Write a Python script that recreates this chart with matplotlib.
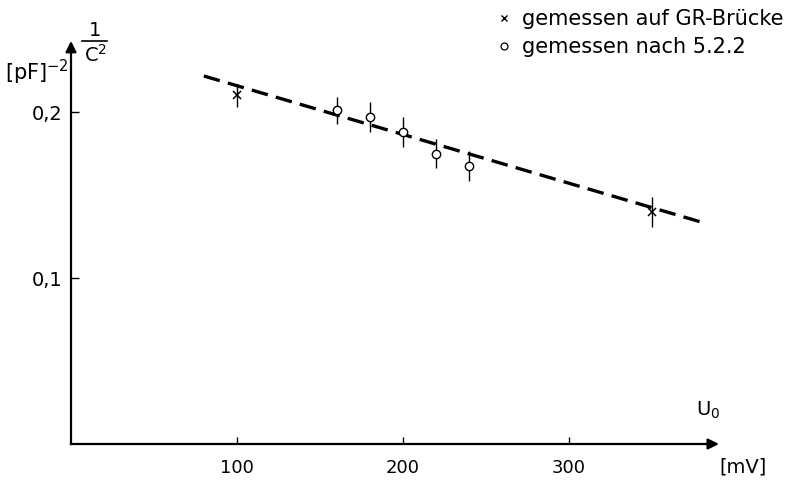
import matplotlib
matplotlib.use("Agg")
import matplotlib.pyplot as plt
from matplotlib.lines import Line2D

# --- data ---
gr_u = [100, 350]                 # mV, measured on GR bridge (x markers)
gr_v = [0.210, 0.140]             # 1/C^2 [pF^-2]
gr_err = [0.007, 0.009]

m_u = [160, 180, 200, 220, 240]   # mV, measured after 5.2.2 (circles)
m_v = [0.201, 0.197, 0.188, 0.175, 0.1675]
m_err = [0.008, 0.009, 0.009, 0.0087, 0.0093]

fit_u = [80, 382]                 # dashed regression line end points
fit_v = [0.2217, 0.133]

xticks = [100, 200, 300]
xtick_labels = ["100", "200", "300"]
yticks = [0.1, 0.2]
ytick_labels = ["0,1", "0,2"]

plt.rcParams["font.family"] = ["DejaVu Sans"]
plt.rcParams["mathtext.fontset"] = "dejavusans"

W, H = 796, 486
fig = plt.figure(figsize=(W / 100, H / 100), dpi=100)
ox, oy = 71, 444  # pixel position of origin
ax = fig.add_axes([ox / W, (H - oy) / H, 1 - ox / W, oy / H])
ax.set_xlim(0, (W - ox) / 1.66)
ax.set_ylim(0, oy / 1660)

for s in ["top", "right"]:
    ax.spines[s].set_visible(False)
ax.spines["bottom"].set_bounds(0, 385)
ax.spines["left"].set_bounds(0, 0.24)
for s in ["bottom", "left"]:
    ax.spines[s].set_linewidth(1.6)

# arrow heads
ax.annotate("", xy=(392, 0), xytext=(380, 0),
            arrowprops=dict(arrowstyle="-|>", color="black", lw=1.6,
                            mutation_scale=16), annotation_clip=False)
ax.annotate("", xy=(0, 0.2445), xytext=(0, 0.236),
            arrowprops=dict(arrowstyle="-|>", color="black", lw=1.6,
                            mutation_scale=16), annotation_clip=False)

ax.set_xticks(xticks, labels=xtick_labels)
ax.set_yticks(yticks, labels=ytick_labels)
ax.tick_params(axis="x", direction="in", length=5, width=1, pad=11, labelsize=13)
ax.tick_params(axis="y", direction="in", length=6, width=1, pad=6, labelsize=14)

# regression line
ax.plot(fit_u, fit_v, color="black", lw=2.4, ls=(0, (5, 2.5)), clip_on=False)

# data with error bars
ax.errorbar(gr_u, gr_v, yerr=gr_err, fmt="x", color="black", ms=6, mew=1.1,
            elinewidth=1.0, capsize=0, zorder=3)
ax.errorbar(m_u, m_v, yerr=m_err, fmt="o", color="black", mfc="white", ms=6,
            mew=1.0, elinewidth=1.0, capsize=0, zorder=3)

# axis labels: 1 / C^2 as stacked fraction
fig.text(95 / W, 1 - 31 / H, "1", fontsize=14, ha="center", va="center")
fig.add_artist(Line2D([82 / W, 107 / W], [1 - 41 / H, 1 - 41 / H],
                      color="black", lw=1.2))
fig.text(96 / W, 1 - 55 / H, r"C$^2$", fontsize=14, ha="center", va="center")
fig.text(69 / W, 1 - 72 / H, r"[pF]$^{-2}$", fontsize=15, ha="right", va="center")
fig.text(708 / W, 1 - 410 / H, r"U$_0$", fontsize=14, ha="center", va="center")
fig.text(743 / W, 1 - 467 / H, "[mV]", fontsize=14, ha="center", va="center")

# legend
handles = [Line2D([], [], ls="none", marker="x", color="black", ms=5, mew=1.0),
           Line2D([], [], ls="none", marker="o", color="black", mfc="white",
                  ms=5, mew=0.9)]
fig.legend(handles, ["gemessen auf GR-Brücke", "gemessen nach 5.2.2"],
           loc="upper left", bbox_to_anchor=(498 / W, 1 - 9 / H), frameon=False,
           fontsize=15, handlelength=0.6, handletextpad=0.55, labelspacing=0.4,
           borderaxespad=0, borderpad=0)

fig.savefig("out.png", dpi=100)
